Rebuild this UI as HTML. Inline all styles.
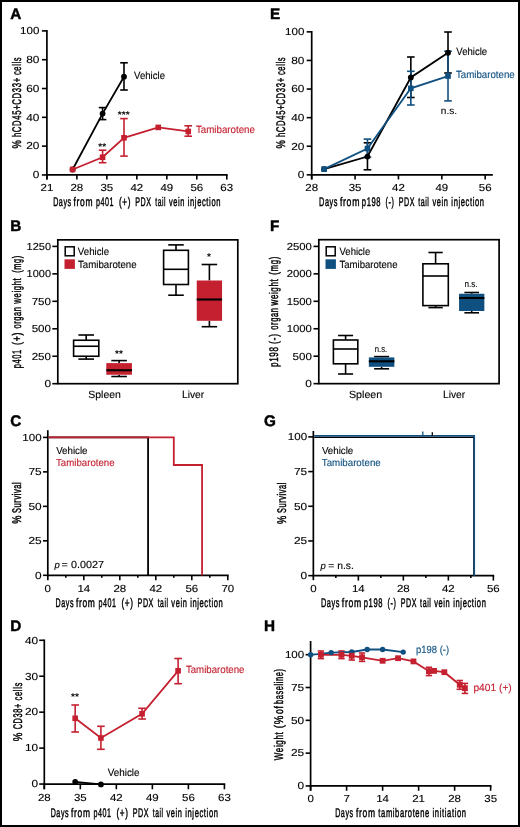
<!DOCTYPE html>
<html><head><meta charset="utf-8"><title>Figure</title>
<style>
html,body{margin:0;padding:0;background:#fff;}
svg{display:block;font-family:"Liberation Sans", sans-serif;will-change:transform;text-rendering:geometricPrecision;}
</style></head>
<body>
<svg width="520" height="827" viewBox="0 0 520 827">
<rect x="0" y="0" width="520" height="827" fill="#fff"/>
<text x="10.30" y="18.70" font-size="15.3" font-weight="bold" stroke="#000" stroke-width="0.45">A</text>
<line x1="46.90" y1="30.05" x2="46.90" y2="179.55" stroke="#000" stroke-width="1.7"/>
<line x1="46.05" y1="174.95" x2="227.64" y2="174.95" stroke="#000" stroke-width="1.7"/>
<line x1="41.90" y1="174.95" x2="46.90" y2="174.95" stroke="#000" stroke-width="1.6"/>
<text x="39.40" y="178.25" font-size="10.2" fill="#000" text-anchor="end" stroke="#000" stroke-width="0.12" textLength="6.60" lengthAdjust="spacingAndGlyphs">0</text>
<line x1="41.90" y1="146.14" x2="46.90" y2="146.14" stroke="#000" stroke-width="1.6"/>
<text x="39.40" y="149.44" font-size="10.2" fill="#000" text-anchor="end" stroke="#000" stroke-width="0.12" textLength="13.20" lengthAdjust="spacingAndGlyphs">20</text>
<line x1="41.90" y1="117.33" x2="46.90" y2="117.33" stroke="#000" stroke-width="1.6"/>
<text x="39.40" y="120.63" font-size="10.2" fill="#000" text-anchor="end" stroke="#000" stroke-width="0.12" textLength="13.20" lengthAdjust="spacingAndGlyphs">40</text>
<line x1="41.90" y1="88.52" x2="46.90" y2="88.52" stroke="#000" stroke-width="1.6"/>
<text x="39.40" y="91.82" font-size="10.2" fill="#000" text-anchor="end" stroke="#000" stroke-width="0.12" textLength="13.20" lengthAdjust="spacingAndGlyphs">60</text>
<line x1="41.90" y1="59.71" x2="46.90" y2="59.71" stroke="#000" stroke-width="1.6"/>
<text x="39.40" y="63.01" font-size="10.2" fill="#000" text-anchor="end" stroke="#000" stroke-width="0.12" textLength="13.20" lengthAdjust="spacingAndGlyphs">80</text>
<line x1="41.90" y1="30.90" x2="46.90" y2="30.90" stroke="#000" stroke-width="1.6"/>
<text x="39.40" y="34.20" font-size="10.2" fill="#000" text-anchor="end" stroke="#000" stroke-width="0.12" textLength="19.30" lengthAdjust="spacingAndGlyphs">100</text>
<line x1="46.90" y1="174.95" x2="46.90" y2="179.55" stroke="#000" stroke-width="1.6"/>
<text x="46.90" y="191.20" font-size="10.2" fill="#000" text-anchor="middle" stroke="#000" stroke-width="0.12" textLength="12.80" lengthAdjust="spacingAndGlyphs">21</text>
<line x1="76.88" y1="174.95" x2="76.88" y2="179.55" stroke="#000" stroke-width="1.6"/>
<text x="76.88" y="191.20" font-size="10.2" fill="#000" text-anchor="middle" stroke="#000" stroke-width="0.12" textLength="12.80" lengthAdjust="spacingAndGlyphs">28</text>
<line x1="106.86" y1="174.95" x2="106.86" y2="179.55" stroke="#000" stroke-width="1.6"/>
<text x="106.86" y="191.20" font-size="10.2" fill="#000" text-anchor="middle" stroke="#000" stroke-width="0.12" textLength="12.80" lengthAdjust="spacingAndGlyphs">35</text>
<line x1="136.84" y1="174.95" x2="136.84" y2="179.55" stroke="#000" stroke-width="1.6"/>
<text x="136.84" y="191.20" font-size="10.2" fill="#000" text-anchor="middle" stroke="#000" stroke-width="0.12" textLength="12.80" lengthAdjust="spacingAndGlyphs">42</text>
<line x1="166.82" y1="174.95" x2="166.82" y2="179.55" stroke="#000" stroke-width="1.6"/>
<text x="166.82" y="191.20" font-size="10.2" fill="#000" text-anchor="middle" stroke="#000" stroke-width="0.12" textLength="12.80" lengthAdjust="spacingAndGlyphs">49</text>
<line x1="196.81" y1="174.95" x2="196.81" y2="179.55" stroke="#000" stroke-width="1.6"/>
<text x="196.81" y="191.20" font-size="10.2" fill="#000" text-anchor="middle" stroke="#000" stroke-width="0.12" textLength="12.80" lengthAdjust="spacingAndGlyphs">56</text>
<line x1="226.79" y1="174.95" x2="226.79" y2="179.55" stroke="#000" stroke-width="1.6"/>
<text x="226.79" y="191.20" font-size="10.2" fill="#000" text-anchor="middle" stroke="#000" stroke-width="0.12" textLength="12.80" lengthAdjust="spacingAndGlyphs">63</text>
<text x="53.17" y="205.70" font-size="12.5" textLength="18.47" lengthAdjust="spacingAndGlyphs" letter-spacing="1.0" stroke="#000" stroke-width="0.45">Days</text>
<text x="73.54" y="205.70" font-size="12.5" textLength="19.59" lengthAdjust="spacingAndGlyphs" letter-spacing="1.0" stroke="#000" stroke-width="0.45">from</text>
<text x="95.98" y="205.70" font-size="12.5" textLength="18.10" lengthAdjust="spacingAndGlyphs" letter-spacing="1.0" stroke="#000" stroke-width="0.45">p401</text>
<text x="118.99" y="205.70" font-size="12.5" textLength="12.20" lengthAdjust="spacingAndGlyphs" letter-spacing="1.0" stroke="#000" stroke-width="0.45">(+)</text>
<text x="135.17" y="205.70" font-size="12.5" textLength="16.37" lengthAdjust="spacingAndGlyphs" letter-spacing="1.0" stroke="#000" stroke-width="0.45">PDX</text>
<text x="155.28" y="205.70" font-size="12.5" textLength="10.80" lengthAdjust="spacingAndGlyphs" letter-spacing="1.0" stroke="#000" stroke-width="0.45">tail</text>
<text x="168.96" y="205.70" font-size="12.5" textLength="16.00" lengthAdjust="spacingAndGlyphs" letter-spacing="1.0" stroke="#000" stroke-width="0.45">vein</text>
<text x="187.75" y="205.70" font-size="12.5" textLength="33.28" lengthAdjust="spacingAndGlyphs" letter-spacing="1.0" stroke="#000" stroke-width="0.45">injection</text>
<text x="-148.45" y="20.90" transform="rotate(-90)" font-size="12.5" textLength="9.06" lengthAdjust="spacingAndGlyphs" letter-spacing="1.0" stroke="#000" stroke-width="0.45">%</text>
<text x="-137.08" y="20.90" transform="rotate(-90)" font-size="12.5" textLength="59.94" lengthAdjust="spacingAndGlyphs" letter-spacing="1.0" stroke="#000" stroke-width="0.45">hCD45+CD33+</text>
<text x="-75.09" y="20.90" transform="rotate(-90)" font-size="12.5" textLength="18.34" lengthAdjust="spacingAndGlyphs" letter-spacing="1.0" stroke="#000" stroke-width="0.45">cells</text>
<line x1="102.58" y1="107.60" x2="102.58" y2="119.60" stroke="#000" stroke-width="1.6"/>
<line x1="98.78" y1="107.60" x2="106.38" y2="107.60" stroke="#000" stroke-width="1.6"/>
<line x1="98.78" y1="119.60" x2="106.38" y2="119.60" stroke="#000" stroke-width="1.6"/>
<line x1="123.99" y1="62.80" x2="123.99" y2="90.00" stroke="#000" stroke-width="1.6"/>
<line x1="120.19" y1="62.80" x2="127.79" y2="62.80" stroke="#000" stroke-width="1.6"/>
<line x1="120.19" y1="90.00" x2="127.79" y2="90.00" stroke="#000" stroke-width="1.6"/>
<line x1="102.58" y1="150.20" x2="102.58" y2="162.70" stroke="#c42030" stroke-width="1.6"/>
<line x1="98.78" y1="150.20" x2="106.38" y2="150.20" stroke="#c42030" stroke-width="1.6"/>
<line x1="98.78" y1="162.70" x2="106.38" y2="162.70" stroke="#c42030" stroke-width="1.6"/>
<line x1="123.99" y1="118.60" x2="123.99" y2="156.10" stroke="#c42030" stroke-width="1.6"/>
<line x1="120.19" y1="118.60" x2="127.79" y2="118.60" stroke="#c42030" stroke-width="1.6"/>
<line x1="120.19" y1="156.10" x2="127.79" y2="156.10" stroke="#c42030" stroke-width="1.6"/>
<line x1="188.24" y1="125.80" x2="188.24" y2="136.20" stroke="#c42030" stroke-width="1.6"/>
<line x1="184.44" y1="125.80" x2="192.04" y2="125.80" stroke="#c42030" stroke-width="1.6"/>
<line x1="184.44" y1="136.20" x2="192.04" y2="136.20" stroke="#c42030" stroke-width="1.6"/>
<polyline points="72.60,169.48 102.58,113.58 123.99,76.71" fill="none" stroke="#000" stroke-width="1.8" stroke-linejoin="miter"/>
<polyline points="72.60,169.48 102.58,157.23 123.99,137.79 158.26,127.41 188.24,131.45" fill="none" stroke="#c42030" stroke-width="1.8" stroke-linejoin="miter"/>
<circle cx="72.60" cy="169.48" r="2.9" fill="#000"/>
<circle cx="102.58" cy="113.58" r="2.9" fill="#000"/>
<circle cx="123.99" cy="76.71" r="2.9" fill="#000"/>
<rect x="69.80" y="166.68" width="5.60" height="5.60" fill="#c42030" stroke="none" stroke-width="1.5"/>
<rect x="99.78" y="154.43" width="5.60" height="5.60" fill="#c42030" stroke="none" stroke-width="1.5"/>
<rect x="121.19" y="134.99" width="5.60" height="5.60" fill="#c42030" stroke="none" stroke-width="1.5"/>
<rect x="155.46" y="124.61" width="5.60" height="5.60" fill="#c42030" stroke="none" stroke-width="1.5"/>
<rect x="185.44" y="128.65" width="5.60" height="5.60" fill="#c42030" stroke="none" stroke-width="1.5"/>
<text x="134.00" y="78.60" font-size="10.4" fill="#000" text-anchor="start" stroke="#000" stroke-width="0.12" textLength="31.00" lengthAdjust="spacingAndGlyphs">Vehicle</text>
<text x="196.00" y="132.60" font-size="10.4" fill="#c42030" text-anchor="start" stroke="#c42030" stroke-width="0.12" textLength="58.90" lengthAdjust="spacingAndGlyphs">Tamibarotene</text>
<text x="102.20" y="149.60" font-size="10" fill="#000" text-anchor="middle" font-weight="bold">**</text>
<text x="123.70" y="118.00" font-size="10" fill="#000" text-anchor="middle" font-weight="bold">***</text>
<text x="270.00" y="18.70" font-size="15.3" font-weight="bold" stroke="#000" stroke-width="0.45">E</text>
<line x1="311.70" y1="31.00" x2="311.70" y2="179.45" stroke="#000" stroke-width="1.7"/>
<line x1="310.85" y1="174.85" x2="492.85" y2="174.85" stroke="#000" stroke-width="1.7"/>
<line x1="306.70" y1="174.85" x2="311.70" y2="174.85" stroke="#000" stroke-width="1.6"/>
<text x="304.40" y="178.15" font-size="10.2" fill="#000" text-anchor="end" stroke="#000" stroke-width="0.12" textLength="6.60" lengthAdjust="spacingAndGlyphs">0</text>
<line x1="306.70" y1="146.25" x2="311.70" y2="146.25" stroke="#000" stroke-width="1.6"/>
<text x="304.40" y="149.55" font-size="10.2" fill="#000" text-anchor="end" stroke="#000" stroke-width="0.12" textLength="13.20" lengthAdjust="spacingAndGlyphs">20</text>
<line x1="306.70" y1="117.65" x2="311.70" y2="117.65" stroke="#000" stroke-width="1.6"/>
<text x="304.40" y="120.95" font-size="10.2" fill="#000" text-anchor="end" stroke="#000" stroke-width="0.12" textLength="13.20" lengthAdjust="spacingAndGlyphs">40</text>
<line x1="306.70" y1="89.05" x2="311.70" y2="89.05" stroke="#000" stroke-width="1.6"/>
<text x="304.40" y="92.35" font-size="10.2" fill="#000" text-anchor="end" stroke="#000" stroke-width="0.12" textLength="13.20" lengthAdjust="spacingAndGlyphs">60</text>
<line x1="306.70" y1="60.45" x2="311.70" y2="60.45" stroke="#000" stroke-width="1.6"/>
<text x="304.40" y="63.75" font-size="10.2" fill="#000" text-anchor="end" stroke="#000" stroke-width="0.12" textLength="13.20" lengthAdjust="spacingAndGlyphs">80</text>
<line x1="306.70" y1="31.85" x2="311.70" y2="31.85" stroke="#000" stroke-width="1.6"/>
<text x="304.40" y="35.15" font-size="10.2" fill="#000" text-anchor="end" stroke="#000" stroke-width="0.12" textLength="19.30" lengthAdjust="spacingAndGlyphs">100</text>
<line x1="311.70" y1="174.85" x2="311.70" y2="179.45" stroke="#000" stroke-width="1.6"/>
<text x="311.70" y="191.30" font-size="10.2" fill="#000" text-anchor="middle" stroke="#000" stroke-width="0.12" textLength="12.80" lengthAdjust="spacingAndGlyphs">28</text>
<line x1="355.07" y1="174.85" x2="355.07" y2="179.45" stroke="#000" stroke-width="1.6"/>
<text x="355.07" y="191.30" font-size="10.2" fill="#000" text-anchor="middle" stroke="#000" stroke-width="0.12" textLength="12.80" lengthAdjust="spacingAndGlyphs">35</text>
<line x1="398.44" y1="174.85" x2="398.44" y2="179.45" stroke="#000" stroke-width="1.6"/>
<text x="398.44" y="191.30" font-size="10.2" fill="#000" text-anchor="middle" stroke="#000" stroke-width="0.12" textLength="12.80" lengthAdjust="spacingAndGlyphs">42</text>
<line x1="441.82" y1="174.85" x2="441.82" y2="179.45" stroke="#000" stroke-width="1.6"/>
<text x="441.82" y="191.30" font-size="10.2" fill="#000" text-anchor="middle" stroke="#000" stroke-width="0.12" textLength="12.80" lengthAdjust="spacingAndGlyphs">49</text>
<line x1="485.19" y1="174.85" x2="485.19" y2="179.45" stroke="#000" stroke-width="1.6"/>
<text x="485.19" y="191.30" font-size="10.2" fill="#000" text-anchor="middle" stroke="#000" stroke-width="0.12" textLength="12.80" lengthAdjust="spacingAndGlyphs">56</text>
<text x="319.05" y="205.90" font-size="12.5" textLength="19.05" lengthAdjust="spacingAndGlyphs" letter-spacing="1.0" stroke="#000" stroke-width="0.45">Days</text>
<text x="339.93" y="205.90" font-size="12.5" textLength="20.13" lengthAdjust="spacingAndGlyphs" letter-spacing="1.0" stroke="#000" stroke-width="0.45">from</text>
<text x="361.81" y="205.90" font-size="12.5" textLength="19.36" lengthAdjust="spacingAndGlyphs" letter-spacing="1.0" stroke="#000" stroke-width="0.45">p198</text>
<text x="385.53" y="205.90" font-size="12.5" textLength="8.98" lengthAdjust="spacingAndGlyphs" letter-spacing="1.0" stroke="#000" stroke-width="0.45">(-)</text>
<text x="398.77" y="205.90" font-size="12.5" textLength="16.27" lengthAdjust="spacingAndGlyphs" letter-spacing="1.0" stroke="#000" stroke-width="0.45">PDX</text>
<text x="418.22" y="205.90" font-size="12.5" textLength="11.29" lengthAdjust="spacingAndGlyphs" letter-spacing="1.0" stroke="#000" stroke-width="0.45">tail</text>
<text x="432.41" y="205.90" font-size="12.5" textLength="16.05" lengthAdjust="spacingAndGlyphs" letter-spacing="1.0" stroke="#000" stroke-width="0.45">vein</text>
<text x="451.36" y="205.90" font-size="12.5" textLength="33.23" lengthAdjust="spacingAndGlyphs" letter-spacing="1.0" stroke="#000" stroke-width="0.45">injection</text>
<text x="-148.45" y="285.20" transform="rotate(-90)" font-size="12.5" textLength="9.06" lengthAdjust="spacingAndGlyphs" letter-spacing="1.0" stroke="#000" stroke-width="0.45">%</text>
<text x="-137.08" y="285.20" transform="rotate(-90)" font-size="12.5" textLength="59.94" lengthAdjust="spacingAndGlyphs" letter-spacing="1.0" stroke="#000" stroke-width="0.45">hCD45+CD33+</text>
<text x="-75.09" y="285.20" transform="rotate(-90)" font-size="12.5" textLength="18.34" lengthAdjust="spacingAndGlyphs" letter-spacing="1.0" stroke="#000" stroke-width="0.45">cells</text>
<line x1="367.46" y1="142.80" x2="367.46" y2="169.80" stroke="#000" stroke-width="1.6"/>
<line x1="363.66" y1="142.80" x2="371.26" y2="142.80" stroke="#000" stroke-width="1.6"/>
<line x1="363.66" y1="169.80" x2="371.26" y2="169.80" stroke="#000" stroke-width="1.6"/>
<line x1="410.84" y1="57.00" x2="410.84" y2="97.50" stroke="#000" stroke-width="1.6"/>
<line x1="407.04" y1="57.00" x2="414.64" y2="57.00" stroke="#000" stroke-width="1.6"/>
<line x1="407.04" y1="97.50" x2="414.64" y2="97.50" stroke="#000" stroke-width="1.6"/>
<line x1="448.01" y1="32.00" x2="448.01" y2="73.00" stroke="#000" stroke-width="1.6"/>
<line x1="444.21" y1="32.00" x2="451.81" y2="32.00" stroke="#000" stroke-width="1.6"/>
<line x1="444.21" y1="73.00" x2="451.81" y2="73.00" stroke="#000" stroke-width="1.6"/>
<line x1="367.46" y1="139.10" x2="367.46" y2="157.30" stroke="#0f5080" stroke-width="1.6"/>
<line x1="363.66" y1="139.10" x2="371.26" y2="139.10" stroke="#0f5080" stroke-width="1.6"/>
<line x1="363.66" y1="157.30" x2="371.26" y2="157.30" stroke="#0f5080" stroke-width="1.6"/>
<line x1="410.84" y1="71.30" x2="410.84" y2="105.00" stroke="#0f5080" stroke-width="1.6"/>
<line x1="407.04" y1="71.30" x2="414.64" y2="71.30" stroke="#0f5080" stroke-width="1.6"/>
<line x1="407.04" y1="105.00" x2="414.64" y2="105.00" stroke="#0f5080" stroke-width="1.6"/>
<line x1="448.01" y1="51.20" x2="448.01" y2="100.90" stroke="#0f5080" stroke-width="1.6"/>
<line x1="444.21" y1="51.20" x2="451.81" y2="51.20" stroke="#0f5080" stroke-width="1.6"/>
<line x1="444.21" y1="100.90" x2="451.81" y2="100.90" stroke="#0f5080" stroke-width="1.6"/>
<polyline points="324.09,169.13 367.46,156.55 410.84,77.47 448.01,52.73" fill="none" stroke="#000" stroke-width="1.8" stroke-linejoin="miter"/>
<polyline points="324.09,169.13 367.46,148.54 410.84,88.33 448.01,76.04" fill="none" stroke="#0f5080" stroke-width="1.8" stroke-linejoin="miter"/>
<circle cx="324.09" cy="169.13" r="2.9" fill="#000"/>
<circle cx="367.46" cy="156.55" r="2.9" fill="#000"/>
<circle cx="410.84" cy="77.47" r="2.9" fill="#000"/>
<circle cx="448.01" cy="52.73" r="2.9" fill="#000"/>
<rect x="321.29" y="166.33" width="5.60" height="5.60" fill="#0f5080" stroke="none" stroke-width="1.5"/>
<rect x="364.66" y="145.74" width="5.60" height="5.60" fill="#0f5080" stroke="none" stroke-width="1.5"/>
<rect x="408.04" y="85.53" width="5.60" height="5.60" fill="#0f5080" stroke="none" stroke-width="1.5"/>
<rect x="445.21" y="73.24" width="5.60" height="5.60" fill="#0f5080" stroke="none" stroke-width="1.5"/>
<text x="456.30" y="55.00" font-size="10.4" fill="#000" text-anchor="start" stroke="#000" stroke-width="0.12" textLength="30.80" lengthAdjust="spacingAndGlyphs">Vehicle</text>
<text x="455.90" y="78.10" font-size="10.4" fill="#0f5080" text-anchor="start" stroke="#0f5080" stroke-width="0.12" textLength="58.90" lengthAdjust="spacingAndGlyphs">Tamibarotene</text>
<text x="440.80" y="113.60" font-size="9.9" fill="#000" text-anchor="start" stroke="#000" stroke-width="0.12" textLength="16.20" lengthAdjust="spacingAndGlyphs">n.s.</text>
<text x="10.30" y="231.30" font-size="15.3" font-weight="bold" stroke="#000" stroke-width="0.45">B</text>
<rect x="57.80" y="239.85" width="180.00" height="143.85" fill="none" stroke="#000" stroke-width="1.7"/>
<line x1="52.30" y1="383.70" x2="57.80" y2="383.70" stroke="#000" stroke-width="1.6"/>
<text x="51.00" y="387.00" font-size="10.2" fill="#000" text-anchor="end" stroke="#000" stroke-width="0.12" textLength="6.60" lengthAdjust="spacingAndGlyphs">0</text>
<line x1="52.30" y1="356.24" x2="57.80" y2="356.24" stroke="#000" stroke-width="1.6"/>
<text x="51.00" y="359.54" font-size="10.2" fill="#000" text-anchor="end" stroke="#000" stroke-width="0.12" textLength="19.30" lengthAdjust="spacingAndGlyphs">250</text>
<line x1="52.30" y1="328.78" x2="57.80" y2="328.78" stroke="#000" stroke-width="1.6"/>
<text x="51.00" y="332.08" font-size="10.2" fill="#000" text-anchor="end" stroke="#000" stroke-width="0.12" textLength="19.30" lengthAdjust="spacingAndGlyphs">500</text>
<line x1="52.30" y1="301.32" x2="57.80" y2="301.32" stroke="#000" stroke-width="1.6"/>
<text x="51.00" y="304.62" font-size="10.2" fill="#000" text-anchor="end" stroke="#000" stroke-width="0.12" textLength="19.30" lengthAdjust="spacingAndGlyphs">750</text>
<line x1="52.30" y1="273.86" x2="57.80" y2="273.86" stroke="#000" stroke-width="1.6"/>
<text x="51.00" y="277.16" font-size="10.2" fill="#000" text-anchor="end" stroke="#000" stroke-width="0.12" textLength="24.40" lengthAdjust="spacingAndGlyphs">1000</text>
<line x1="52.30" y1="246.40" x2="57.80" y2="246.40" stroke="#000" stroke-width="1.6"/>
<text x="51.00" y="249.70" font-size="10.2" fill="#000" text-anchor="end" stroke="#000" stroke-width="0.12" textLength="24.40" lengthAdjust="spacingAndGlyphs">1250</text>
<rect x="65.20" y="246.80" width="9.00" height="9.00" fill="white" stroke="#000" stroke-width="1.5"/>
<rect x="64.50" y="259.30" width="10.40" height="9.60" fill="#c42030" stroke="none" stroke-width="1.5"/>
<text x="77.80" y="255.10" font-size="10.4" fill="#000" text-anchor="start" stroke="#000" stroke-width="0.12" textLength="31.30" lengthAdjust="spacingAndGlyphs">Vehicle</text>
<text x="78.00" y="268.30" font-size="10.4" fill="#000" text-anchor="start" stroke="#000" stroke-width="0.12" textLength="58.60" lengthAdjust="spacingAndGlyphs">Tamibarotene</text>
<line x1="86.20" y1="335.00" x2="86.20" y2="340.25" stroke="#000" stroke-width="1.6"/>
<line x1="86.20" y1="356.25" x2="86.20" y2="359.10" stroke="#000" stroke-width="1.6"/>
<line x1="78.40" y1="335.00" x2="94.00" y2="335.00" stroke="#000" stroke-width="1.6"/>
<line x1="78.40" y1="359.10" x2="94.00" y2="359.10" stroke="#000" stroke-width="1.6"/>
<rect x="73.60" y="340.25" width="25.20" height="16.00" fill="white" stroke="#000" stroke-width="1.6"/>
<line x1="73.60" y1="346.25" x2="98.80" y2="346.25" stroke="#000" stroke-width="1.6"/>
<line x1="119.10" y1="360.60" x2="119.10" y2="363.10" stroke="#000" stroke-width="1.6"/>
<line x1="119.10" y1="374.75" x2="119.10" y2="376.50" stroke="#000" stroke-width="1.6"/>
<line x1="111.30" y1="360.60" x2="126.90" y2="360.60" stroke="#000" stroke-width="1.6"/>
<line x1="111.30" y1="376.50" x2="126.90" y2="376.50" stroke="#000" stroke-width="1.6"/>
<rect x="106.30" y="363.10" width="25.60" height="11.65" fill="#c42030" stroke="none" stroke-width="1.5"/>
<line x1="106.30" y1="370.25" x2="131.90" y2="370.25" stroke="#000" stroke-width="2.1"/>
<line x1="176.00" y1="244.90" x2="176.00" y2="250.30" stroke="#000" stroke-width="1.6"/>
<line x1="176.00" y1="284.50" x2="176.00" y2="295.20" stroke="#000" stroke-width="1.6"/>
<line x1="168.20" y1="244.90" x2="183.80" y2="244.90" stroke="#000" stroke-width="1.6"/>
<line x1="168.20" y1="295.20" x2="183.80" y2="295.20" stroke="#000" stroke-width="1.6"/>
<rect x="163.60" y="250.30" width="24.80" height="34.20" fill="white" stroke="#000" stroke-width="1.6"/>
<line x1="163.60" y1="269.30" x2="188.40" y2="269.30" stroke="#000" stroke-width="1.6"/>
<line x1="209.40" y1="264.50" x2="209.40" y2="280.50" stroke="#000" stroke-width="1.6"/>
<line x1="209.40" y1="320.80" x2="209.40" y2="326.70" stroke="#000" stroke-width="1.6"/>
<line x1="201.65" y1="264.50" x2="217.15" y2="264.50" stroke="#000" stroke-width="1.6"/>
<line x1="201.65" y1="326.70" x2="217.15" y2="326.70" stroke="#000" stroke-width="1.6"/>
<rect x="196.75" y="280.50" width="25.30" height="40.30" fill="#c42030" stroke="none" stroke-width="1.5"/>
<line x1="196.75" y1="299.50" x2="222.05" y2="299.50" stroke="#000" stroke-width="2.1"/>
<text x="104.60" y="397.50" font-size="10.4" fill="#000" text-anchor="middle" stroke="#000" stroke-width="0.12" textLength="32.60" lengthAdjust="spacingAndGlyphs">Spleen</text>
<text x="193.10" y="397.50" font-size="10.4" fill="#000" text-anchor="middle" stroke="#000" stroke-width="0.12" textLength="22.30" lengthAdjust="spacingAndGlyphs">Liver</text>
<text x="119.00" y="356.60" font-size="10" fill="#000" text-anchor="middle" font-weight="bold">**</text>
<text x="209.00" y="259.80" font-size="10" fill="#000" text-anchor="middle" font-weight="bold">*</text>
<text x="-368.19" y="21.05" transform="rotate(-90)" font-size="12.5" textLength="19.00" lengthAdjust="spacingAndGlyphs" letter-spacing="1.0" stroke="#000" stroke-width="0.45">p401</text>
<text x="-344.94" y="21.05" transform="rotate(-90)" font-size="12.5" textLength="13.11" lengthAdjust="spacingAndGlyphs" letter-spacing="1.0" stroke="#000" stroke-width="0.45">(+)</text>
<text x="-328.59" y="21.05" transform="rotate(-90)" font-size="12.5" textLength="22.14" lengthAdjust="spacingAndGlyphs" letter-spacing="1.0" stroke="#000" stroke-width="0.45">organ</text>
<text x="-303.66" y="21.05" transform="rotate(-90)" font-size="12.5" textLength="25.98" lengthAdjust="spacingAndGlyphs" letter-spacing="1.0" stroke="#000" stroke-width="0.45">weight</text>
<text x="-272.87" y="21.05" transform="rotate(-90)" font-size="12.5" textLength="17.57" lengthAdjust="spacingAndGlyphs" letter-spacing="1.0" stroke="#000" stroke-width="0.45">(mg)</text>
<text x="270.00" y="231.30" font-size="15.3" font-weight="bold" stroke="#000" stroke-width="0.45">F</text>
<rect x="318.80" y="239.70" width="180.30" height="143.95" fill="none" stroke="#000" stroke-width="1.7"/>
<line x1="313.50" y1="383.65" x2="318.80" y2="383.65" stroke="#000" stroke-width="1.6"/>
<text x="311.90" y="386.95" font-size="10.2" fill="#000" text-anchor="end" stroke="#000" stroke-width="0.12" textLength="6.60" lengthAdjust="spacingAndGlyphs">0</text>
<line x1="313.50" y1="356.20" x2="318.80" y2="356.20" stroke="#000" stroke-width="1.6"/>
<text x="311.90" y="359.50" font-size="10.2" fill="#000" text-anchor="end" stroke="#000" stroke-width="0.12" textLength="19.30" lengthAdjust="spacingAndGlyphs">500</text>
<line x1="313.50" y1="328.75" x2="318.80" y2="328.75" stroke="#000" stroke-width="1.6"/>
<text x="311.90" y="332.05" font-size="10.2" fill="#000" text-anchor="end" stroke="#000" stroke-width="0.12" textLength="25.20" lengthAdjust="spacingAndGlyphs">1000</text>
<line x1="313.50" y1="301.30" x2="318.80" y2="301.30" stroke="#000" stroke-width="1.6"/>
<text x="311.90" y="304.60" font-size="10.2" fill="#000" text-anchor="end" stroke="#000" stroke-width="0.12" textLength="25.20" lengthAdjust="spacingAndGlyphs">1500</text>
<line x1="313.50" y1="273.85" x2="318.80" y2="273.85" stroke="#000" stroke-width="1.6"/>
<text x="311.90" y="277.15" font-size="10.2" fill="#000" text-anchor="end" stroke="#000" stroke-width="0.12" textLength="25.20" lengthAdjust="spacingAndGlyphs">2000</text>
<line x1="313.50" y1="246.40" x2="318.80" y2="246.40" stroke="#000" stroke-width="1.6"/>
<text x="311.90" y="249.70" font-size="10.2" fill="#000" text-anchor="end" stroke="#000" stroke-width="0.12" textLength="25.20" lengthAdjust="spacingAndGlyphs">2500</text>
<rect x="326.20" y="246.80" width="9.00" height="9.00" fill="white" stroke="#000" stroke-width="1.5"/>
<rect x="325.50" y="259.30" width="10.40" height="9.60" fill="#0f5080" stroke="none" stroke-width="1.5"/>
<text x="339.50" y="255.20" font-size="10.4" fill="#000" text-anchor="start" stroke="#000" stroke-width="0.12" textLength="30.80" lengthAdjust="spacingAndGlyphs">Vehicle</text>
<text x="339.50" y="268.40" font-size="10.4" fill="#000" text-anchor="start" stroke="#000" stroke-width="0.12" textLength="58.00" lengthAdjust="spacingAndGlyphs">Tamibarotene</text>
<line x1="345.60" y1="335.50" x2="345.60" y2="340.00" stroke="#000" stroke-width="1.6"/>
<line x1="345.60" y1="363.80" x2="345.60" y2="374.00" stroke="#000" stroke-width="1.6"/>
<line x1="338.10" y1="335.50" x2="353.10" y2="335.50" stroke="#000" stroke-width="1.6"/>
<line x1="338.10" y1="374.00" x2="353.10" y2="374.00" stroke="#000" stroke-width="1.6"/>
<rect x="333.40" y="340.00" width="24.40" height="23.80" fill="white" stroke="#000" stroke-width="1.6"/>
<line x1="333.40" y1="349.00" x2="357.80" y2="349.00" stroke="#000" stroke-width="1.6"/>
<line x1="381.60" y1="356.60" x2="381.60" y2="357.40" stroke="#000" stroke-width="1.6"/>
<line x1="381.60" y1="366.80" x2="381.60" y2="368.80" stroke="#000" stroke-width="1.6"/>
<line x1="374.10" y1="356.60" x2="389.10" y2="356.60" stroke="#000" stroke-width="1.6"/>
<line x1="374.10" y1="368.80" x2="389.10" y2="368.80" stroke="#000" stroke-width="1.6"/>
<rect x="368.85" y="357.40" width="25.50" height="9.40" fill="#0f5080" stroke="none" stroke-width="1.5"/>
<line x1="368.85" y1="361.30" x2="394.35" y2="361.30" stroke="#000" stroke-width="2.1"/>
<line x1="435.60" y1="252.50" x2="435.60" y2="263.80" stroke="#000" stroke-width="1.6"/>
<line x1="435.60" y1="305.60" x2="435.60" y2="307.60" stroke="#000" stroke-width="1.6"/>
<line x1="428.45" y1="252.50" x2="442.75" y2="252.50" stroke="#000" stroke-width="1.6"/>
<line x1="428.45" y1="307.60" x2="442.75" y2="307.60" stroke="#000" stroke-width="1.6"/>
<rect x="422.90" y="263.80" width="25.40" height="41.80" fill="white" stroke="#000" stroke-width="1.6"/>
<line x1="422.90" y1="276.00" x2="448.30" y2="276.00" stroke="#000" stroke-width="1.6"/>
<line x1="471.70" y1="292.50" x2="471.70" y2="293.75" stroke="#000" stroke-width="1.6"/>
<line x1="471.70" y1="311.00" x2="471.70" y2="312.80" stroke="#000" stroke-width="1.6"/>
<line x1="464.40" y1="292.50" x2="479.00" y2="292.50" stroke="#000" stroke-width="1.6"/>
<line x1="464.40" y1="312.80" x2="479.00" y2="312.80" stroke="#000" stroke-width="1.6"/>
<rect x="459.05" y="293.75" width="25.30" height="17.25" fill="#0f5080" stroke="none" stroke-width="1.5"/>
<line x1="459.05" y1="298.00" x2="484.35" y2="298.00" stroke="#000" stroke-width="2.1"/>
<text x="365.60" y="397.50" font-size="10.4" fill="#000" text-anchor="middle" stroke="#000" stroke-width="0.12" textLength="33.20" lengthAdjust="spacingAndGlyphs">Spleen</text>
<text x="454.10" y="397.50" font-size="10.4" fill="#000" text-anchor="middle" stroke="#000" stroke-width="0.12" textLength="22.30" lengthAdjust="spacingAndGlyphs">Liver</text>
<text x="381.00" y="351.80" font-size="9.2" fill="#000" text-anchor="middle" stroke="#000" stroke-width="0.12" textLength="12.40" lengthAdjust="spacingAndGlyphs">n.s.</text>
<text x="471.00" y="287.00" font-size="9.4" fill="#000" text-anchor="middle" stroke="#000" stroke-width="0.12" textLength="13.00" lengthAdjust="spacingAndGlyphs">n.s.</text>
<text x="-367.02" y="277.80" transform="rotate(-90)" font-size="12.5" textLength="20.64" lengthAdjust="spacingAndGlyphs" letter-spacing="1.0" stroke="#000" stroke-width="0.45">p198</text>
<text x="-344.03" y="277.80" transform="rotate(-90)" font-size="12.5" textLength="10.82" lengthAdjust="spacingAndGlyphs" letter-spacing="1.0" stroke="#000" stroke-width="0.45">(-)</text>
<text x="-329.69" y="277.80" transform="rotate(-90)" font-size="12.5" textLength="22.24" lengthAdjust="spacingAndGlyphs" letter-spacing="1.0" stroke="#000" stroke-width="0.45">organ</text>
<text x="-305.45" y="277.80" transform="rotate(-90)" font-size="12.5" textLength="26.70" lengthAdjust="spacingAndGlyphs" letter-spacing="1.0" stroke="#000" stroke-width="0.45">weight</text>
<text x="-274.70" y="277.80" transform="rotate(-90)" font-size="12.5" textLength="18.75" lengthAdjust="spacingAndGlyphs" letter-spacing="1.0" stroke="#000" stroke-width="0.45">(mg)</text>
<text x="10.30" y="426.00" font-size="15.3" font-weight="bold" stroke="#000" stroke-width="0.45">C</text>
<line x1="47.80" y1="430.20" x2="47.80" y2="580.20" stroke="#000" stroke-width="1.7"/>
<line x1="46.95" y1="575.30" x2="228.65" y2="575.30" stroke="#000" stroke-width="1.7"/>
<line x1="43.00" y1="575.30" x2="47.80" y2="575.30" stroke="#000" stroke-width="1.6"/>
<text x="41.60" y="578.60" font-size="10.2" fill="#000" text-anchor="end" stroke="#000" stroke-width="0.12" textLength="6.60" lengthAdjust="spacingAndGlyphs">0</text>
<line x1="43.00" y1="540.82" x2="47.80" y2="540.82" stroke="#000" stroke-width="1.6"/>
<text x="41.60" y="544.12" font-size="10.2" fill="#000" text-anchor="end" stroke="#000" stroke-width="0.12" textLength="13.20" lengthAdjust="spacingAndGlyphs">25</text>
<line x1="43.00" y1="506.35" x2="47.80" y2="506.35" stroke="#000" stroke-width="1.6"/>
<text x="41.60" y="509.65" font-size="10.2" fill="#000" text-anchor="end" stroke="#000" stroke-width="0.12" textLength="13.20" lengthAdjust="spacingAndGlyphs">50</text>
<line x1="43.00" y1="471.87" x2="47.80" y2="471.87" stroke="#000" stroke-width="1.6"/>
<text x="41.60" y="475.17" font-size="10.2" fill="#000" text-anchor="end" stroke="#000" stroke-width="0.12" textLength="13.20" lengthAdjust="spacingAndGlyphs">75</text>
<line x1="43.00" y1="437.40" x2="47.80" y2="437.40" stroke="#000" stroke-width="1.6"/>
<text x="41.60" y="440.70" font-size="10.2" fill="#000" text-anchor="end" stroke="#000" stroke-width="0.12" textLength="19.30" lengthAdjust="spacingAndGlyphs">100</text>
<text x="47.80" y="591.50" font-size="10.2" fill="#000" text-anchor="middle" stroke="#000" stroke-width="0.12" textLength="6.40" lengthAdjust="spacingAndGlyphs">0</text>
<line x1="65.80" y1="575.30" x2="65.80" y2="577.70" stroke="#000" stroke-width="1.6"/>
<line x1="83.80" y1="575.30" x2="83.80" y2="580.20" stroke="#000" stroke-width="1.6"/>
<text x="83.80" y="591.50" font-size="10.2" fill="#000" text-anchor="middle" stroke="#000" stroke-width="0.12" textLength="12.80" lengthAdjust="spacingAndGlyphs">14</text>
<line x1="101.80" y1="575.30" x2="101.80" y2="577.70" stroke="#000" stroke-width="1.6"/>
<line x1="119.80" y1="575.30" x2="119.80" y2="580.20" stroke="#000" stroke-width="1.6"/>
<text x="119.80" y="591.50" font-size="10.2" fill="#000" text-anchor="middle" stroke="#000" stroke-width="0.12" textLength="12.80" lengthAdjust="spacingAndGlyphs">28</text>
<line x1="137.80" y1="575.30" x2="137.80" y2="577.70" stroke="#000" stroke-width="1.6"/>
<line x1="155.80" y1="575.30" x2="155.80" y2="580.20" stroke="#000" stroke-width="1.6"/>
<text x="155.80" y="591.50" font-size="10.2" fill="#000" text-anchor="middle" stroke="#000" stroke-width="0.12" textLength="12.80" lengthAdjust="spacingAndGlyphs">42</text>
<line x1="173.80" y1="575.30" x2="173.80" y2="577.70" stroke="#000" stroke-width="1.6"/>
<line x1="191.80" y1="575.30" x2="191.80" y2="580.20" stroke="#000" stroke-width="1.6"/>
<text x="191.80" y="591.50" font-size="10.2" fill="#000" text-anchor="middle" stroke="#000" stroke-width="0.12" textLength="12.80" lengthAdjust="spacingAndGlyphs">56</text>
<line x1="209.80" y1="575.30" x2="209.80" y2="577.70" stroke="#000" stroke-width="1.6"/>
<line x1="227.80" y1="575.30" x2="227.80" y2="580.20" stroke="#000" stroke-width="1.6"/>
<text x="227.80" y="591.50" font-size="10.2" fill="#000" text-anchor="middle" stroke="#000" stroke-width="0.12" textLength="12.80" lengthAdjust="spacingAndGlyphs">70</text>
<polyline points="48.65,437.40 148.08,437.40 148.08,575.30" fill="none" stroke="#000" stroke-width="1.8" stroke-linejoin="miter"/>
<polyline points="48.65,437.40 173.80,437.40 173.80,464.98 202.08,464.98 202.08,575.30" fill="none" stroke="#c42030" stroke-width="1.8" stroke-linejoin="miter"/>
<text x="56.20" y="454.20" font-size="10.2" fill="#000" text-anchor="start" stroke="#000" stroke-width="0.12" textLength="31.30" lengthAdjust="spacingAndGlyphs">Vehicle</text>
<text x="56.00" y="465.80" font-size="10.2" fill="#c42030" text-anchor="start" stroke="#c42030" stroke-width="0.12" textLength="58.60" lengthAdjust="spacingAndGlyphs">Tamibarotene</text>
<text x="54.60" y="568.20" font-size="9.5" fill="#000" text-anchor="start" stroke="#000" stroke-width="0.12" font-style="italic">p</text>
<text x="61.60" y="568.20" font-size="10.2" fill="#000" text-anchor="start" stroke="#000" stroke-width="0.12" textLength="42.30" lengthAdjust="spacingAndGlyphs">= 0.0027</text>
<text x="55.57" y="606.70" font-size="12.5" textLength="18.47" lengthAdjust="spacingAndGlyphs" letter-spacing="1.0" stroke="#000" stroke-width="0.45">Days</text>
<text x="75.94" y="606.70" font-size="12.5" textLength="19.59" lengthAdjust="spacingAndGlyphs" letter-spacing="1.0" stroke="#000" stroke-width="0.45">from</text>
<text x="98.38" y="606.70" font-size="12.5" textLength="18.10" lengthAdjust="spacingAndGlyphs" letter-spacing="1.0" stroke="#000" stroke-width="0.45">p401</text>
<text x="121.39" y="606.70" font-size="12.5" textLength="12.20" lengthAdjust="spacingAndGlyphs" letter-spacing="1.0" stroke="#000" stroke-width="0.45">(+)</text>
<text x="137.57" y="606.70" font-size="12.5" textLength="16.37" lengthAdjust="spacingAndGlyphs" letter-spacing="1.0" stroke="#000" stroke-width="0.45">PDX</text>
<text x="157.68" y="606.70" font-size="12.5" textLength="10.80" lengthAdjust="spacingAndGlyphs" letter-spacing="1.0" stroke="#000" stroke-width="0.45">tail</text>
<text x="171.36" y="606.70" font-size="12.5" textLength="16.00" lengthAdjust="spacingAndGlyphs" letter-spacing="1.0" stroke="#000" stroke-width="0.45">vein</text>
<text x="190.15" y="606.70" font-size="12.5" textLength="33.28" lengthAdjust="spacingAndGlyphs" letter-spacing="1.0" stroke="#000" stroke-width="0.45">injection</text>
<text x="-523.65" y="21.20" transform="rotate(-90)" font-size="12.5" textLength="8.95" lengthAdjust="spacingAndGlyphs" letter-spacing="1.0" stroke="#000" stroke-width="0.45">%</text>
<text x="-512.97" y="21.20" transform="rotate(-90)" font-size="12.5" textLength="31.30" lengthAdjust="spacingAndGlyphs" letter-spacing="1.0" stroke="#000" stroke-width="0.45">Survival</text>
<text x="264.00" y="426.10" font-size="15.3" font-weight="bold" stroke="#000" stroke-width="0.45">G</text>
<line x1="313.35" y1="431.00" x2="313.35" y2="580.15" stroke="#000" stroke-width="1.7"/>
<line x1="312.50" y1="575.65" x2="494.20" y2="575.65" stroke="#000" stroke-width="1.7"/>
<line x1="308.25" y1="575.65" x2="313.35" y2="575.65" stroke="#000" stroke-width="1.6"/>
<text x="307.10" y="578.95" font-size="10.2" fill="#000" text-anchor="end" stroke="#000" stroke-width="0.12" textLength="6.60" lengthAdjust="spacingAndGlyphs">0</text>
<line x1="308.25" y1="540.96" x2="313.35" y2="540.96" stroke="#000" stroke-width="1.6"/>
<text x="307.10" y="544.26" font-size="10.2" fill="#000" text-anchor="end" stroke="#000" stroke-width="0.12" textLength="13.20" lengthAdjust="spacingAndGlyphs">25</text>
<line x1="308.25" y1="506.27" x2="313.35" y2="506.27" stroke="#000" stroke-width="1.6"/>
<text x="307.10" y="509.57" font-size="10.2" fill="#000" text-anchor="end" stroke="#000" stroke-width="0.12" textLength="13.20" lengthAdjust="spacingAndGlyphs">50</text>
<line x1="308.25" y1="471.59" x2="313.35" y2="471.59" stroke="#000" stroke-width="1.6"/>
<text x="307.10" y="474.89" font-size="10.2" fill="#000" text-anchor="end" stroke="#000" stroke-width="0.12" textLength="13.20" lengthAdjust="spacingAndGlyphs">75</text>
<line x1="308.25" y1="436.90" x2="313.35" y2="436.90" stroke="#000" stroke-width="1.6"/>
<text x="307.10" y="440.20" font-size="10.2" fill="#000" text-anchor="end" stroke="#000" stroke-width="0.12" textLength="19.30" lengthAdjust="spacingAndGlyphs">100</text>
<text x="313.35" y="591.50" font-size="10.2" fill="#000" text-anchor="middle" stroke="#000" stroke-width="0.12" textLength="6.40" lengthAdjust="spacingAndGlyphs">0</text>
<line x1="335.85" y1="575.65" x2="335.85" y2="578.05" stroke="#000" stroke-width="1.6"/>
<line x1="358.35" y1="575.65" x2="358.35" y2="580.55" stroke="#000" stroke-width="1.6"/>
<text x="358.35" y="591.50" font-size="10.2" fill="#000" text-anchor="middle" stroke="#000" stroke-width="0.12" textLength="12.80" lengthAdjust="spacingAndGlyphs">14</text>
<line x1="380.85" y1="575.65" x2="380.85" y2="578.05" stroke="#000" stroke-width="1.6"/>
<line x1="403.35" y1="575.65" x2="403.35" y2="580.55" stroke="#000" stroke-width="1.6"/>
<text x="403.35" y="591.50" font-size="10.2" fill="#000" text-anchor="middle" stroke="#000" stroke-width="0.12" textLength="12.80" lengthAdjust="spacingAndGlyphs">28</text>
<line x1="425.85" y1="575.65" x2="425.85" y2="578.05" stroke="#000" stroke-width="1.6"/>
<line x1="448.35" y1="575.65" x2="448.35" y2="580.55" stroke="#000" stroke-width="1.6"/>
<text x="448.35" y="591.50" font-size="10.2" fill="#000" text-anchor="middle" stroke="#000" stroke-width="0.12" textLength="12.80" lengthAdjust="spacingAndGlyphs">42</text>
<line x1="470.85" y1="575.65" x2="470.85" y2="578.05" stroke="#000" stroke-width="1.6"/>
<line x1="493.35" y1="575.65" x2="493.35" y2="580.55" stroke="#000" stroke-width="1.6"/>
<text x="493.35" y="591.50" font-size="10.2" fill="#000" text-anchor="middle" stroke="#000" stroke-width="0.12" textLength="12.80" lengthAdjust="spacingAndGlyphs">56</text>
<polyline points="314.20,437.25 474.07,437.25 474.07,575.65" fill="none" stroke="#000" stroke-width="1.7" stroke-linejoin="miter"/>
<polyline points="314.20,435.70 474.27,435.70 474.27,575.65" fill="none" stroke="#0f5080" stroke-width="1.6" stroke-linejoin="miter"/>
<line x1="422.80" y1="431.40" x2="422.80" y2="435.20" stroke="#0f5080" stroke-width="1.3"/>
<line x1="432.30" y1="432.30" x2="432.30" y2="436.00" stroke="#000" stroke-width="1.3"/>
<text x="321.90" y="454.20" font-size="10.2" fill="#000" text-anchor="start" stroke="#000" stroke-width="0.12" textLength="31.40" lengthAdjust="spacingAndGlyphs">Vehicle</text>
<text x="321.80" y="465.80" font-size="10.2" fill="#0f5080" text-anchor="start" stroke="#0f5080" stroke-width="0.12" textLength="58.90" lengthAdjust="spacingAndGlyphs">Tamibarotene</text>
<text x="320.40" y="568.90" font-size="9.5" fill="#000" text-anchor="start" stroke="#000" stroke-width="0.12" font-style="italic">p</text>
<text x="328.30" y="568.90" font-size="10.2" fill="#000" text-anchor="start" stroke="#000" stroke-width="0.12" textLength="25.60" lengthAdjust="spacingAndGlyphs">= n.s.</text>
<text x="320.95" y="606.70" font-size="12.5" textLength="19.05" lengthAdjust="spacingAndGlyphs" letter-spacing="1.0" stroke="#000" stroke-width="0.45">Days</text>
<text x="341.83" y="606.70" font-size="12.5" textLength="20.13" lengthAdjust="spacingAndGlyphs" letter-spacing="1.0" stroke="#000" stroke-width="0.45">from</text>
<text x="363.71" y="606.70" font-size="12.5" textLength="19.36" lengthAdjust="spacingAndGlyphs" letter-spacing="1.0" stroke="#000" stroke-width="0.45">p198</text>
<text x="387.43" y="606.70" font-size="12.5" textLength="8.98" lengthAdjust="spacingAndGlyphs" letter-spacing="1.0" stroke="#000" stroke-width="0.45">(-)</text>
<text x="400.67" y="606.70" font-size="12.5" textLength="16.27" lengthAdjust="spacingAndGlyphs" letter-spacing="1.0" stroke="#000" stroke-width="0.45">PDX</text>
<text x="420.12" y="606.70" font-size="12.5" textLength="11.29" lengthAdjust="spacingAndGlyphs" letter-spacing="1.0" stroke="#000" stroke-width="0.45">tail</text>
<text x="434.31" y="606.70" font-size="12.5" textLength="16.05" lengthAdjust="spacingAndGlyphs" letter-spacing="1.0" stroke="#000" stroke-width="0.45">vein</text>
<text x="453.26" y="606.70" font-size="12.5" textLength="33.23" lengthAdjust="spacingAndGlyphs" letter-spacing="1.0" stroke="#000" stroke-width="0.45">injection</text>
<text x="-523.95" y="285.50" transform="rotate(-90)" font-size="12.5" textLength="8.95" lengthAdjust="spacingAndGlyphs" letter-spacing="1.0" stroke="#000" stroke-width="0.45">%</text>
<text x="-513.07" y="285.50" transform="rotate(-90)" font-size="12.5" textLength="31.09" lengthAdjust="spacingAndGlyphs" letter-spacing="1.0" stroke="#000" stroke-width="0.45">Survival</text>
<text x="10.30" y="630.90" font-size="15.3" font-weight="bold" stroke="#000" stroke-width="0.45">D</text>
<line x1="44.30" y1="639.50" x2="44.30" y2="789.25" stroke="#000" stroke-width="1.7"/>
<line x1="43.45" y1="784.05" x2="225.26" y2="784.05" stroke="#000" stroke-width="1.7"/>
<line x1="39.20" y1="784.05" x2="44.30" y2="784.05" stroke="#000" stroke-width="1.6"/>
<text x="38.20" y="787.35" font-size="10.2" fill="#000" text-anchor="end" stroke="#000" stroke-width="0.12" textLength="6.60" lengthAdjust="spacingAndGlyphs">0</text>
<line x1="39.20" y1="748.11" x2="44.30" y2="748.11" stroke="#000" stroke-width="1.6"/>
<text x="38.20" y="751.41" font-size="10.2" fill="#000" text-anchor="end" stroke="#000" stroke-width="0.12" textLength="13.20" lengthAdjust="spacingAndGlyphs">10</text>
<line x1="39.20" y1="712.17" x2="44.30" y2="712.17" stroke="#000" stroke-width="1.6"/>
<text x="38.20" y="715.47" font-size="10.2" fill="#000" text-anchor="end" stroke="#000" stroke-width="0.12" textLength="13.20" lengthAdjust="spacingAndGlyphs">20</text>
<line x1="39.20" y1="676.23" x2="44.30" y2="676.23" stroke="#000" stroke-width="1.6"/>
<text x="38.20" y="679.53" font-size="10.2" fill="#000" text-anchor="end" stroke="#000" stroke-width="0.12" textLength="13.20" lengthAdjust="spacingAndGlyphs">30</text>
<line x1="39.20" y1="640.29" x2="44.30" y2="640.29" stroke="#000" stroke-width="1.6"/>
<text x="38.20" y="643.59" font-size="10.2" fill="#000" text-anchor="end" stroke="#000" stroke-width="0.12" textLength="13.20" lengthAdjust="spacingAndGlyphs">40</text>
<line x1="44.30" y1="784.05" x2="44.30" y2="789.25" stroke="#000" stroke-width="1.6"/>
<text x="44.30" y="801.20" font-size="10.2" fill="#000" text-anchor="middle" stroke="#000" stroke-width="0.12" textLength="12.80" lengthAdjust="spacingAndGlyphs">28</text>
<line x1="80.32" y1="784.05" x2="80.32" y2="789.25" stroke="#000" stroke-width="1.6"/>
<text x="80.32" y="801.20" font-size="10.2" fill="#000" text-anchor="middle" stroke="#000" stroke-width="0.12" textLength="12.80" lengthAdjust="spacingAndGlyphs">35</text>
<line x1="116.34" y1="784.05" x2="116.34" y2="789.25" stroke="#000" stroke-width="1.6"/>
<text x="116.34" y="801.20" font-size="10.2" fill="#000" text-anchor="middle" stroke="#000" stroke-width="0.12" textLength="12.80" lengthAdjust="spacingAndGlyphs">42</text>
<line x1="152.37" y1="784.05" x2="152.37" y2="789.25" stroke="#000" stroke-width="1.6"/>
<text x="152.37" y="801.20" font-size="10.2" fill="#000" text-anchor="middle" stroke="#000" stroke-width="0.12" textLength="12.80" lengthAdjust="spacingAndGlyphs">49</text>
<line x1="188.39" y1="784.05" x2="188.39" y2="789.25" stroke="#000" stroke-width="1.6"/>
<text x="188.39" y="801.20" font-size="10.2" fill="#000" text-anchor="middle" stroke="#000" stroke-width="0.12" textLength="12.80" lengthAdjust="spacingAndGlyphs">56</text>
<line x1="224.41" y1="784.05" x2="224.41" y2="789.25" stroke="#000" stroke-width="1.6"/>
<text x="224.41" y="801.20" font-size="10.2" fill="#000" text-anchor="middle" stroke="#000" stroke-width="0.12" textLength="12.80" lengthAdjust="spacingAndGlyphs">63</text>
<line x1="75.18" y1="705.00" x2="75.18" y2="732.00" stroke="#c42030" stroke-width="1.6"/>
<line x1="71.38" y1="705.00" x2="78.98" y2="705.00" stroke="#c42030" stroke-width="1.6"/>
<line x1="71.38" y1="732.00" x2="78.98" y2="732.00" stroke="#c42030" stroke-width="1.6"/>
<line x1="100.91" y1="726.30" x2="100.91" y2="749.30" stroke="#c42030" stroke-width="1.6"/>
<line x1="97.11" y1="726.30" x2="104.71" y2="726.30" stroke="#c42030" stroke-width="1.6"/>
<line x1="97.11" y1="749.30" x2="104.71" y2="749.30" stroke="#c42030" stroke-width="1.6"/>
<line x1="142.07" y1="708.30" x2="142.07" y2="719.00" stroke="#c42030" stroke-width="1.6"/>
<line x1="138.27" y1="708.30" x2="145.87" y2="708.30" stroke="#c42030" stroke-width="1.6"/>
<line x1="138.27" y1="719.00" x2="145.87" y2="719.00" stroke="#c42030" stroke-width="1.6"/>
<line x1="178.10" y1="658.50" x2="178.10" y2="683.70" stroke="#c42030" stroke-width="1.6"/>
<line x1="174.30" y1="658.50" x2="181.90" y2="658.50" stroke="#c42030" stroke-width="1.6"/>
<line x1="174.30" y1="683.70" x2="181.90" y2="683.70" stroke="#c42030" stroke-width="1.6"/>
<polyline points="75.18,781.80 100.91,784.40" fill="none" stroke="#000" stroke-width="1.8" stroke-linejoin="miter"/>
<polyline points="75.18,718.30 100.91,738.00 142.07,713.80 178.10,670.80" fill="none" stroke="#c42030" stroke-width="1.8" stroke-linejoin="miter"/>
<circle cx="75.18" cy="781.80" r="2.9" fill="#000"/>
<circle cx="100.91" cy="784.40" r="2.9" fill="#000"/>
<rect x="72.38" y="715.50" width="5.60" height="5.60" fill="#c42030" stroke="none" stroke-width="1.5"/>
<rect x="98.11" y="735.20" width="5.60" height="5.60" fill="#c42030" stroke="none" stroke-width="1.5"/>
<rect x="139.27" y="711.00" width="5.60" height="5.60" fill="#c42030" stroke="none" stroke-width="1.5"/>
<rect x="175.30" y="668.00" width="5.60" height="5.60" fill="#c42030" stroke="none" stroke-width="1.5"/>
<text x="185.90" y="673.00" font-size="10.4" fill="#c42030" text-anchor="start" stroke="#c42030" stroke-width="0.12" textLength="58.60" lengthAdjust="spacingAndGlyphs">Tamibarotene</text>
<text x="107.70" y="776.00" font-size="10.4" fill="#000" text-anchor="start" stroke="#000" stroke-width="0.12" textLength="31.80" lengthAdjust="spacingAndGlyphs">Vehicle</text>
<text x="75.00" y="700.40" font-size="10" fill="#000" text-anchor="middle" font-weight="bold">**</text>
<text x="50.67" y="816.90" font-size="12.5" textLength="18.47" lengthAdjust="spacingAndGlyphs" letter-spacing="1.0" stroke="#000" stroke-width="0.45">Days</text>
<text x="71.04" y="816.90" font-size="12.5" textLength="19.59" lengthAdjust="spacingAndGlyphs" letter-spacing="1.0" stroke="#000" stroke-width="0.45">from</text>
<text x="93.48" y="816.90" font-size="12.5" textLength="18.10" lengthAdjust="spacingAndGlyphs" letter-spacing="1.0" stroke="#000" stroke-width="0.45">p401</text>
<text x="116.49" y="816.90" font-size="12.5" textLength="12.20" lengthAdjust="spacingAndGlyphs" letter-spacing="1.0" stroke="#000" stroke-width="0.45">(+)</text>
<text x="132.67" y="816.90" font-size="12.5" textLength="16.37" lengthAdjust="spacingAndGlyphs" letter-spacing="1.0" stroke="#000" stroke-width="0.45">PDX</text>
<text x="152.78" y="816.90" font-size="12.5" textLength="10.80" lengthAdjust="spacingAndGlyphs" letter-spacing="1.0" stroke="#000" stroke-width="0.45">tail</text>
<text x="166.46" y="816.90" font-size="12.5" textLength="16.00" lengthAdjust="spacingAndGlyphs" letter-spacing="1.0" stroke="#000" stroke-width="0.45">vein</text>
<text x="185.25" y="816.90" font-size="12.5" textLength="33.28" lengthAdjust="spacingAndGlyphs" letter-spacing="1.0" stroke="#000" stroke-width="0.45">injection</text>
<text x="-741.16" y="21.55" transform="rotate(-90)" font-size="12.5" textLength="9.41" lengthAdjust="spacingAndGlyphs" letter-spacing="1.0" stroke="#000" stroke-width="0.45">%</text>
<text x="-729.33" y="21.55" transform="rotate(-90)" font-size="12.5" textLength="26.21" lengthAdjust="spacingAndGlyphs" letter-spacing="1.0" stroke="#000" stroke-width="0.45">CD38+</text>
<text x="-700.49" y="21.55" transform="rotate(-90)" font-size="12.5" textLength="18.45" lengthAdjust="spacingAndGlyphs" letter-spacing="1.0" stroke="#000" stroke-width="0.45">cells</text>
<text x="264.10" y="630.70" font-size="15.3" font-weight="bold" stroke="#000" stroke-width="0.45">H</text>
<line x1="310.60" y1="641.00" x2="310.60" y2="790.75" stroke="#000" stroke-width="1.7"/>
<line x1="309.75" y1="785.95" x2="491.49" y2="785.95" stroke="#000" stroke-width="1.7"/>
<line x1="305.60" y1="785.95" x2="310.60" y2="785.95" stroke="#000" stroke-width="1.6"/>
<text x="304.20" y="789.25" font-size="10.2" fill="#000" text-anchor="end" stroke="#000" stroke-width="0.12" textLength="6.60" lengthAdjust="spacingAndGlyphs">0</text>
<line x1="305.60" y1="753.14" x2="310.60" y2="753.14" stroke="#000" stroke-width="1.6"/>
<text x="304.20" y="756.44" font-size="10.2" fill="#000" text-anchor="end" stroke="#000" stroke-width="0.12" textLength="13.20" lengthAdjust="spacingAndGlyphs">25</text>
<line x1="305.60" y1="720.33" x2="310.60" y2="720.33" stroke="#000" stroke-width="1.6"/>
<text x="304.20" y="723.62" font-size="10.2" fill="#000" text-anchor="end" stroke="#000" stroke-width="0.12" textLength="13.20" lengthAdjust="spacingAndGlyphs">50</text>
<line x1="305.60" y1="687.51" x2="310.60" y2="687.51" stroke="#000" stroke-width="1.6"/>
<text x="304.20" y="690.81" font-size="10.2" fill="#000" text-anchor="end" stroke="#000" stroke-width="0.12" textLength="13.20" lengthAdjust="spacingAndGlyphs">75</text>
<line x1="305.60" y1="654.70" x2="310.60" y2="654.70" stroke="#000" stroke-width="1.6"/>
<text x="304.20" y="658.00" font-size="10.2" fill="#000" text-anchor="end" stroke="#000" stroke-width="0.12" textLength="19.30" lengthAdjust="spacingAndGlyphs">100</text>
<line x1="310.60" y1="785.95" x2="310.60" y2="790.75" stroke="#000" stroke-width="1.6"/>
<text x="310.60" y="802.40" font-size="10.2" fill="#000" text-anchor="middle" stroke="#000" stroke-width="0.12" textLength="6.40" lengthAdjust="spacingAndGlyphs">0</text>
<line x1="346.61" y1="785.95" x2="346.61" y2="790.75" stroke="#000" stroke-width="1.6"/>
<text x="346.61" y="802.40" font-size="10.2" fill="#000" text-anchor="middle" stroke="#000" stroke-width="0.12" textLength="6.40" lengthAdjust="spacingAndGlyphs">7</text>
<line x1="382.62" y1="785.95" x2="382.62" y2="790.75" stroke="#000" stroke-width="1.6"/>
<text x="382.62" y="802.40" font-size="10.2" fill="#000" text-anchor="middle" stroke="#000" stroke-width="0.12" textLength="12.80" lengthAdjust="spacingAndGlyphs">14</text>
<line x1="418.62" y1="785.95" x2="418.62" y2="790.75" stroke="#000" stroke-width="1.6"/>
<text x="418.62" y="802.40" font-size="10.2" fill="#000" text-anchor="middle" stroke="#000" stroke-width="0.12" textLength="12.80" lengthAdjust="spacingAndGlyphs">21</text>
<line x1="454.63" y1="785.95" x2="454.63" y2="790.75" stroke="#000" stroke-width="1.6"/>
<text x="454.63" y="802.40" font-size="10.2" fill="#000" text-anchor="middle" stroke="#000" stroke-width="0.12" textLength="12.80" lengthAdjust="spacingAndGlyphs">28</text>
<line x1="490.64" y1="785.95" x2="490.64" y2="790.75" stroke="#000" stroke-width="1.6"/>
<text x="490.64" y="802.40" font-size="10.2" fill="#000" text-anchor="middle" stroke="#000" stroke-width="0.12" textLength="12.80" lengthAdjust="spacingAndGlyphs">35</text>
<line x1="320.89" y1="651.00" x2="320.89" y2="658.60" stroke="#c42030" stroke-width="1.6"/>
<line x1="317.69" y1="651.00" x2="324.09" y2="651.00" stroke="#c42030" stroke-width="1.6"/>
<line x1="317.69" y1="658.60" x2="324.09" y2="658.60" stroke="#c42030" stroke-width="1.6"/>
<line x1="341.46" y1="651.00" x2="341.46" y2="658.60" stroke="#c42030" stroke-width="1.6"/>
<line x1="338.26" y1="651.00" x2="344.66" y2="651.00" stroke="#c42030" stroke-width="1.6"/>
<line x1="338.26" y1="658.60" x2="344.66" y2="658.60" stroke="#c42030" stroke-width="1.6"/>
<line x1="351.75" y1="651.60" x2="351.75" y2="660.00" stroke="#c42030" stroke-width="1.6"/>
<line x1="348.55" y1="651.60" x2="354.95" y2="651.60" stroke="#c42030" stroke-width="1.6"/>
<line x1="348.55" y1="660.00" x2="354.95" y2="660.00" stroke="#c42030" stroke-width="1.6"/>
<line x1="362.04" y1="653.00" x2="362.04" y2="661.40" stroke="#c42030" stroke-width="1.6"/>
<line x1="358.84" y1="653.00" x2="365.24" y2="653.00" stroke="#c42030" stroke-width="1.6"/>
<line x1="358.84" y1="661.40" x2="365.24" y2="661.40" stroke="#c42030" stroke-width="1.6"/>
<line x1="428.91" y1="667.30" x2="428.91" y2="675.60" stroke="#c42030" stroke-width="1.6"/>
<line x1="425.71" y1="667.30" x2="432.11" y2="667.30" stroke="#c42030" stroke-width="1.6"/>
<line x1="425.71" y1="675.60" x2="432.11" y2="675.60" stroke="#c42030" stroke-width="1.6"/>
<line x1="459.78" y1="680.50" x2="459.78" y2="689.30" stroke="#c42030" stroke-width="1.6"/>
<line x1="456.58" y1="680.50" x2="462.98" y2="680.50" stroke="#c42030" stroke-width="1.6"/>
<line x1="456.58" y1="689.30" x2="462.98" y2="689.30" stroke="#c42030" stroke-width="1.6"/>
<line x1="464.92" y1="683.40" x2="464.92" y2="693.40" stroke="#c42030" stroke-width="1.6"/>
<line x1="461.72" y1="683.40" x2="468.12" y2="683.40" stroke="#c42030" stroke-width="1.6"/>
<line x1="461.72" y1="693.40" x2="468.12" y2="693.40" stroke="#c42030" stroke-width="1.6"/>
<polyline points="310.60,654.80 331.18,652.60 351.75,652.00 367.18,649.50 382.62,649.50 403.19,652.10" fill="none" stroke="#0f5080" stroke-width="1.8" stroke-linejoin="miter"/>
<polyline points="320.89,654.80 341.46,654.80 351.75,655.80 362.04,657.30 382.62,660.80 398.05,658.20 413.48,661.40 428.91,671.20 434.06,670.90 444.34,672.20 459.78,684.80 464.92,688.20" fill="none" stroke="#c42030" stroke-width="1.8" stroke-linejoin="miter"/>
<circle cx="310.60" cy="654.80" r="2.7" fill="#0f5080"/>
<circle cx="331.18" cy="652.60" r="2.7" fill="#0f5080"/>
<circle cx="351.75" cy="652.00" r="2.7" fill="#0f5080"/>
<circle cx="367.18" cy="649.50" r="2.7" fill="#0f5080"/>
<circle cx="382.62" cy="649.50" r="2.7" fill="#0f5080"/>
<circle cx="403.19" cy="652.10" r="2.7" fill="#0f5080"/>
<rect x="317.99" y="651.90" width="5.80" height="5.80" fill="#c42030" stroke="none" stroke-width="1.5"/>
<rect x="338.56" y="651.90" width="5.80" height="5.80" fill="#c42030" stroke="none" stroke-width="1.5"/>
<rect x="348.85" y="652.90" width="5.80" height="5.80" fill="#c42030" stroke="none" stroke-width="1.5"/>
<rect x="359.14" y="654.40" width="5.80" height="5.80" fill="#c42030" stroke="none" stroke-width="1.5"/>
<rect x="379.72" y="657.90" width="5.80" height="5.80" fill="#c42030" stroke="none" stroke-width="1.5"/>
<rect x="395.15" y="655.30" width="5.80" height="5.80" fill="#c42030" stroke="none" stroke-width="1.5"/>
<rect x="410.58" y="658.50" width="5.80" height="5.80" fill="#c42030" stroke="none" stroke-width="1.5"/>
<rect x="426.01" y="668.30" width="5.80" height="5.80" fill="#c42030" stroke="none" stroke-width="1.5"/>
<rect x="431.16" y="668.00" width="5.80" height="5.80" fill="#c42030" stroke="none" stroke-width="1.5"/>
<rect x="441.44" y="669.30" width="5.80" height="5.80" fill="#c42030" stroke="none" stroke-width="1.5"/>
<rect x="456.88" y="681.90" width="5.80" height="5.80" fill="#c42030" stroke="none" stroke-width="1.5"/>
<rect x="462.02" y="685.30" width="5.80" height="5.80" fill="#c42030" stroke="none" stroke-width="1.5"/>
<text x="416.10" y="652.50" font-size="10.4" fill="#0f5080" text-anchor="start" stroke="#0f5080" stroke-width="0.12" textLength="33.00" lengthAdjust="spacingAndGlyphs">p198 (-)</text>
<text x="473.40" y="691.30" font-size="10.4" fill="#c42030" text-anchor="start" stroke="#c42030" stroke-width="0.12" textLength="38.40" lengthAdjust="spacingAndGlyphs">p401 (+)</text>
<text x="335.17" y="816.60" font-size="12.5" textLength="18.47" lengthAdjust="spacingAndGlyphs" letter-spacing="1.0" stroke="#000" stroke-width="0.45">Days</text>
<text x="355.94" y="816.60" font-size="12.5" textLength="19.70" lengthAdjust="spacingAndGlyphs" letter-spacing="1.0" stroke="#000" stroke-width="0.45">from</text>
<text x="378.36" y="816.60" font-size="12.5" textLength="51.41" lengthAdjust="spacingAndGlyphs" letter-spacing="1.0" stroke="#000" stroke-width="0.45">tamibarotene</text>
<text x="432.55" y="816.60" font-size="12.5" textLength="34.11" lengthAdjust="spacingAndGlyphs" letter-spacing="1.0" stroke="#000" stroke-width="0.45">initiation</text>
<text x="-760.19" y="282.90" transform="rotate(-90)" font-size="12.5" textLength="28.56" lengthAdjust="spacingAndGlyphs" letter-spacing="1.0" stroke="#000" stroke-width="0.45">Weight</text>
<text x="-728.28" y="282.90" transform="rotate(-90)" font-size="12.5" textLength="13.38" lengthAdjust="spacingAndGlyphs" letter-spacing="1.0" stroke="#000" stroke-width="0.45">(%</text>
<text x="-713.92" y="282.90" transform="rotate(-90)" font-size="12.5" textLength="8.54" lengthAdjust="spacingAndGlyphs" letter-spacing="1.0" stroke="#000" stroke-width="0.45">of</text>
<text x="-704.06" y="282.90" transform="rotate(-90)" font-size="12.5" textLength="35.70" lengthAdjust="spacingAndGlyphs" letter-spacing="1.0" stroke="#000" stroke-width="0.45">baseline)</text>
<rect x="1" y="1" width="518" height="825" fill="none" stroke="#000" stroke-width="2"/>
</svg>
</body></html>
